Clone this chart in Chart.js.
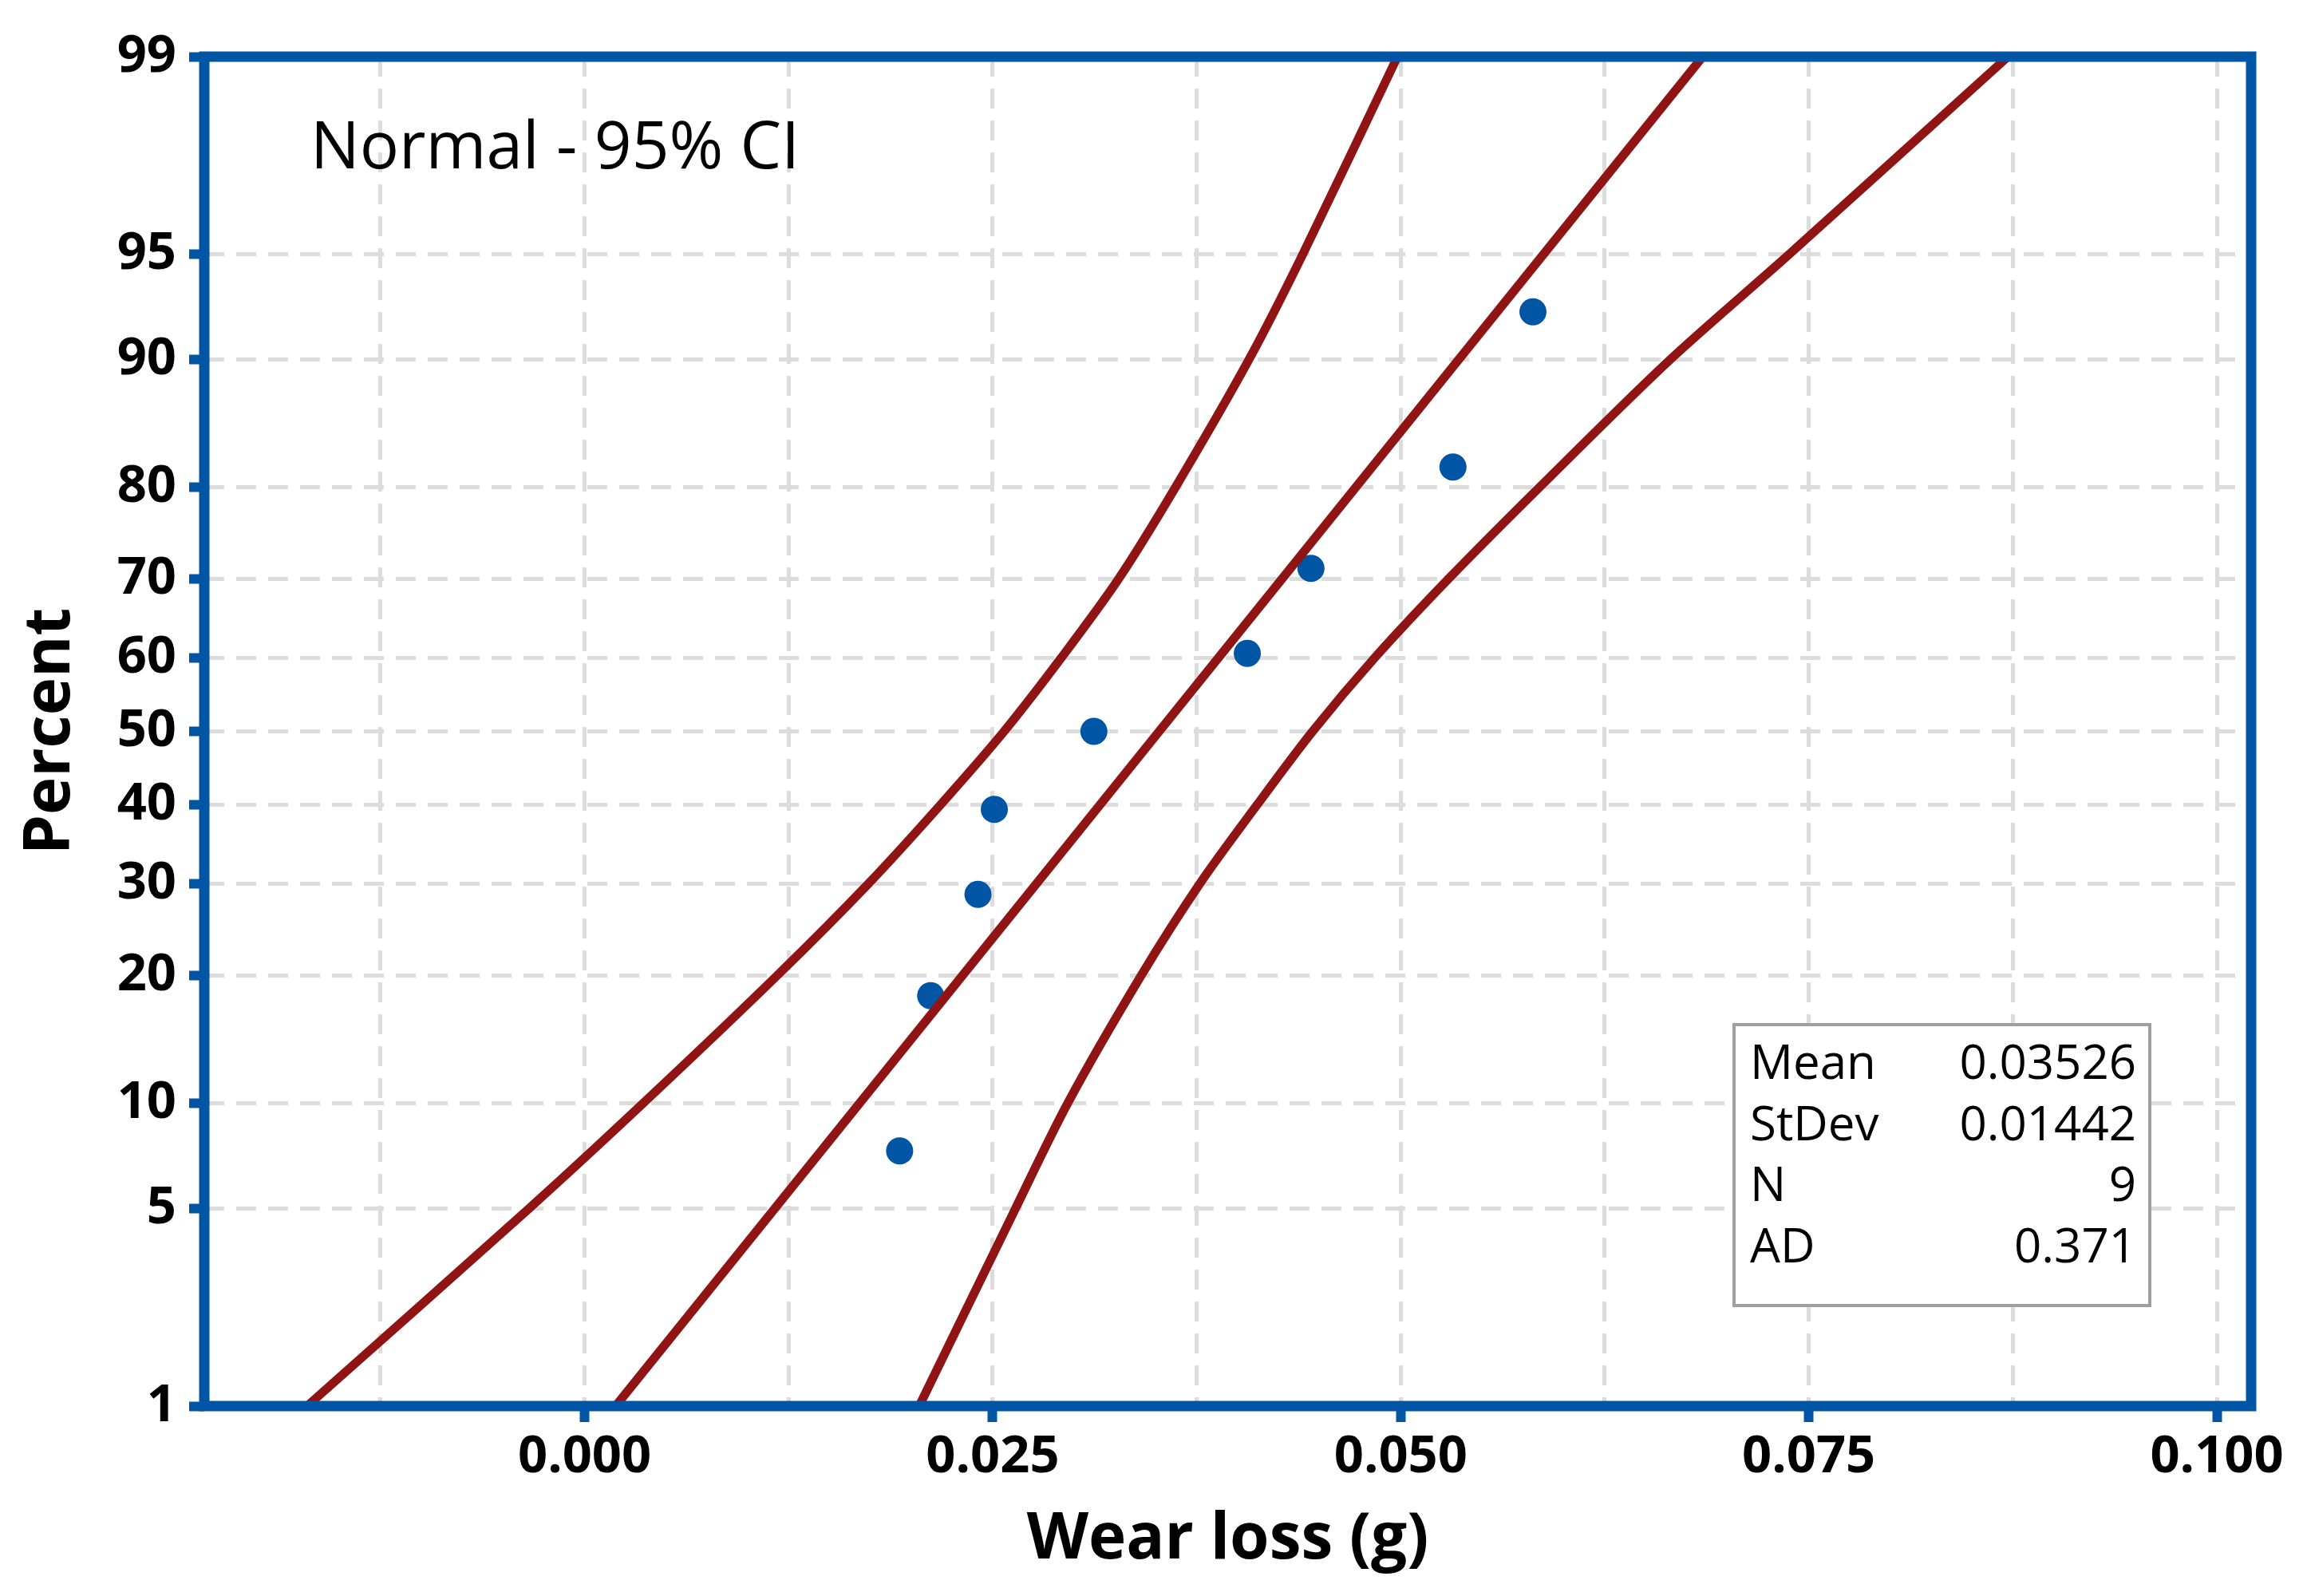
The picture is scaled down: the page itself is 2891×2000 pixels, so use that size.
<!DOCTYPE html>
<html>
<head>
<meta charset="utf-8">
<title>Probability Plot of Wear loss</title>
<script src="https://cdn.jsdelivr.net/npm/chart.js@4.4.1/dist/chart.umd.min.js"></script>
<style>
  html, body { margin: 0; padding: 0; background: #fff; }
  #wrap { width: 2891px; height: 2000px; }
</style>
</head>
<body>
<div id="wrap"><canvas id="probChart" width="2891" height="2000"></canvas></div>
<script>
// ---- data ----
const PCT_TICKS = [1, 5, 10, 20, 30, 40, 50, 60, 70, 80, 90, 95, 99];
const X_LABELS = [0.000, 0.025, 0.050, 0.075, 0.100];
const X_GRID = [-0.0125, 0, 0.0125, 0.025, 0.0375, 0.05, 0.0625, 0.075, 0.0875, 0.1];
const X_MIN = -0.0233, X_MAX = 0.1021;

const wearLoss = [0.0193, 0.0212, 0.0241, 0.0251, 0.0312, 0.0406, 0.0445, 0.0532, 0.0581];
const percent  = [7.4, 18.1, 28.7, 39.4, 50.0, 60.6, 71.3, 81.9, 92.6];

const fitX = [0.0019, 0.0685];
const fitP = [1, 99];

const ciP     = [1, 5, 10, 20, 30, 40, 50, 60, 70, 80, 90, 95, 99];
const ciLower = [-0.0170, -0.0034, 0.0036, 0.0118, 0.0174, 0.0218, 0.0257, 0.0292, 0.0327, 0.0362, 0.0407, 0.0440, 0.0498];
const ciUpper = [0.0205, 0.0264, 0.0296, 0.0341, 0.0377, 0.0412, 0.0446, 0.0484, 0.0529, 0.0585, 0.0665, 0.0738, 0.0872];

const statNames  = ["Mean", "StDev", "N", "AD"];
const statValues = ["0.03526", "0.01442", "9", "0.371"];

const TITLE = "Normal - 95% CI";
const BLUE = "#0055A5";
const RED = "#911414";
const GRID = "#DCDCDC";

// inverse normal cdf (Acklam) - used by the probability axis
function qnorm(p) {
  p = Math.min(Math.max(p, 1e-9), 1 - 1e-9);
  const a = [-3.969683028665376e+01, 2.209460984245205e+02, -2.759285104469687e+02, 1.383577518672690e+02, -3.066479806614716e+01, 2.506628277459239e+00];
  const b = [-5.447609879822406e+01, 1.615858368580409e+02, -1.556989798598866e+02, 6.680131188771972e+01, -1.328068155288572e+01];
  const c = [-7.784894002430293e-03, -3.223964580411365e-01, -2.400758277161838e+00, -2.549732539343734e+00, 4.374664141464968e+00, 2.938163982698783e+00];
  const d = [7.784695709041462e-03, 3.224671290700398e-01, 2.445134137142996e+00, 3.754408661907416e+00];
  const pl = 0.02425;
  let q, r;
  if (p < pl) {
    q = Math.sqrt(-2 * Math.log(p));
    return (((((c[0]*q+c[1])*q+c[2])*q+c[3])*q+c[4])*q+c[5]) / ((((d[0]*q+d[1])*q+d[2])*q+d[3])*q+1);
  }
  if (p > 1 - pl) {
    q = Math.sqrt(-2 * Math.log(1 - p));
    return -(((((c[0]*q+c[1])*q+c[2])*q+c[3])*q+c[4])*q+c[5]) / ((((d[0]*q+d[1])*q+d[2])*q+d[3])*q+1);
  }
  q = p - 0.5; r = q * q;
  return (((((a[0]*r+a[1])*r+a[2])*r+a[3])*r+a[4])*r+a[5])*q / (((((b[0]*r+b[1])*r+b[2])*r+b[3])*r+b[4])*r+1);
}

function pnorm(z) {
  const t = 1 / (1 + 0.3275911 * Math.abs(z) / Math.SQRT2);
  const y = 1 - (((((1.061405429*t - 1.453152027)*t) + 1.421413741)*t - 0.284496736)*t + 0.254829592)*t * Math.exp(-z*z/2);
  return z >= 0 ? (1 + y) / 2 : (1 - y) / 2;
}

// normal probability axis (values in percent)
class ProbabilityScale extends Chart.Scale {
  determineDataLimits() {
    this.min = PCT_TICKS[0];
    this.max = PCT_TICKS[PCT_TICKS.length - 1];
  }
  buildTicks() {
    return PCT_TICKS.map(v => ({ value: v }));
  }
  configure() {
    super.configure();
    this._zMin = qnorm(this.min / 100);
    this._zMax = qnorm(this.max / 100);
  }
  getPixelForValue(v) {
    const z = qnorm(v / 100);
    return this.getPixelForDecimal((z - this._zMin) / (this._zMax - this._zMin));
  }
  getValueForPixel(px) {
    const z = this._zMin + this.getDecimalForPixel(px) * (this._zMax - this._zMin);
    return 100 * pnorm(z);
  }
}
ProbabilityScale.id = "probability";
ProbabilityScale.defaults = {};
Chart.register(ProbabilityScale);

const isLabelled = v => X_LABELS.some(l => Math.abs(l - v) < 1e-9);

const decorPlugin = {
  id: "decor",
  afterDatasetsDraw(chart) {
    const { ctx, chartArea: a } = chart;
    ctx.save();

    ctx.fillStyle = "#000";
    ctx.font = '82px "Open Sans"';
    ctx.textAlign = "left";
    ctx.textBaseline = "alphabetic";
    ctx.fillText(TITLE, a.left + 133, a.top + 140);

    // stats box
    const bx = a.right - 648, by = a.top + 1213, bw = 521, bh = 352;
    ctx.fillStyle = "#fff";
    ctx.fillRect(bx, by, bw, bh);
    ctx.strokeStyle = "#A0A0A0";
    ctx.lineWidth = 4;
    ctx.strokeRect(bx, by, bw, bh);
    ctx.fillStyle = "#000";
    ctx.font = '60px "Open Sans"';
    statNames.forEach((name, i) => {
      const y = by + 68 + i * 76.7;
      ctx.textAlign = "left";
      ctx.fillText(name, bx + 20, y);
      ctx.textAlign = "right";
      ctx.fillText(statValues[i], bx + bw - 17, y);
    });

    // blue frame
    ctx.strokeStyle = BLUE;
    ctx.lineWidth = 13;
    ctx.strokeRect(a.left, a.top, a.right - a.left, a.bottom - a.top);
    ctx.restore();
  }
};

const tickFont = { family: "Open Sans", size: 65, weight: "bold" };
const titleFont = { family: "Open Sans", size: 80, weight: "bold" };

new Chart(document.getElementById("probChart"), {
  type: "scatter",
  data: {
    datasets: [
      {
        data: ciLower.map((x, i) => ({ x, y: ciP[i] })),
        showLine: true, borderColor: RED, borderWidth: 11, pointRadius: 0,
        tension: 0.3, order: 0
      },
      {
        data: fitX.map((x, i) => ({ x, y: fitP[i] })),
        showLine: true, borderColor: RED, borderWidth: 11, pointRadius: 0, order: 0
      },
      {
        data: ciUpper.map((x, i) => ({ x, y: ciP[i] })),
        showLine: true, borderColor: RED, borderWidth: 11, pointRadius: 0,
        tension: 0.3, order: 0
      },
      {
        data: wearLoss.map((x, i) => ({ x, y: percent[i] })),
        backgroundColor: BLUE, borderWidth: 0, pointRadius: 17, order: 1
      }
    ]
  },
  options: {
    responsive: false,
    devicePixelRatio: 1,
    animation: false,
    events: [],
    layout: { padding: { left: 0, top: 71, right: 70, bottom: 0 } },
    plugins: { legend: { display: false }, tooltip: { enabled: false } },
    scales: {
      x: {
        type: "linear",
        min: X_MIN,
        max: X_MAX,
        bounds: "data",
        afterBuildTicks: s => { s.ticks = X_GRID.map(v => ({ value: v })); },
        afterFit: s => { s.height = 238; },
        ticks: {
          autoSkip: false, maxRotation: 0, padding: 5, color: "#000", font: tickFont,
          callback: v => isLabelled(v) ? v.toFixed(3) : ""
        },
        grid: {
          color: GRID, lineWidth: 5, tickLength: 20, tickWidth: 12,
          tickColor: ctx => isLabelled(ctx.tick.value) ? BLUE : "rgba(0,0,0,0)"
        },
        border: { display: false, dash: [25, 15] },
        title: { display: true, text: "Wear loss (g)", color: "#000", font: titleFont, padding: { bottom: 22 } }
      },
      y: {
        type: "probability",
        afterFit: s => { s.width = 256; },
        ticks: {
          autoSkip: false, padding: 16, color: "#000", font: tickFont,
          callback: v => String(v)
        },
        grid: { color: GRID, lineWidth: 5, tickLength: 19, tickWidth: 12, tickColor: BLUE },
        border: { display: false, dash: [25, 15] },
        title: { display: true, text: "Percent", color: "#000", font: titleFont, padding: { top: 16 } }
      }
    }
  },
  plugins: [decorPlugin]
});
</script>
</body>
</html>
